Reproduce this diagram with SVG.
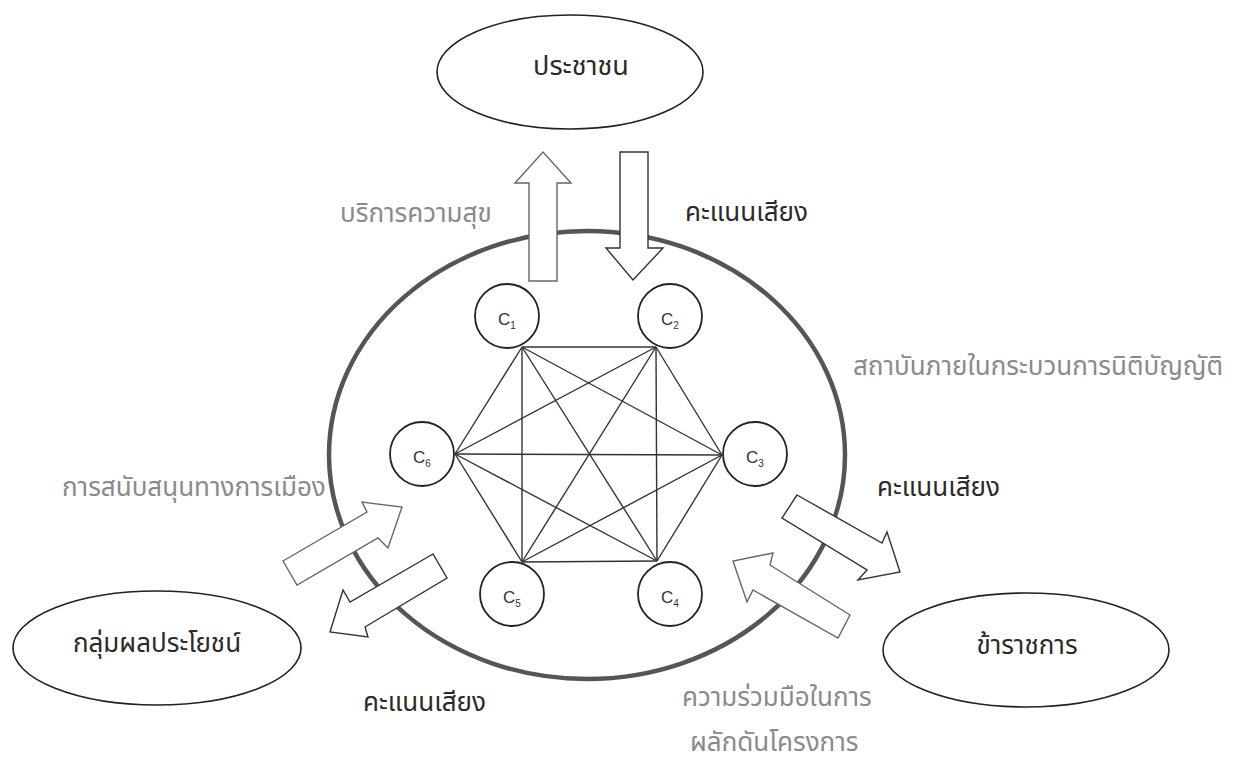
<svg xmlns="http://www.w3.org/2000/svg" width="1235" height="766" viewBox="0 0 1235 766">
<style>
.bg{fill:#fff}
.ell{fill:#fff;stroke:#222;stroke-width:1.6}
.big{fill:none;stroke:#555;stroke-width:4.5}
.node{fill:#fff;stroke:#222;stroke-width:1.8}
.edge{stroke:#333;stroke-width:1.4;fill:none}
.arr{fill:#fff;stroke:#333;stroke-width:1.4;stroke-linejoin:miter}
.arrg{fill:#fff;stroke:#666;stroke-width:1.4;stroke-linejoin:miter}
.th{font-family:"Noto Sans Thai","Noto Sans","DejaVu Sans",sans-serif;font-size:26px}
.dk{fill:#2a2a2a}
.gr{fill:#8a8a8a}
.cl{font-family:"Liberation Sans",Arial,sans-serif;font-size:17px;fill:#333}
.sub{font-size:10px}
</style>
<rect class="bg" x="0" y="0" width="1235" height="766"/>

<g id="outer">
<ellipse class="big" cx="587" cy="455" rx="258" ry="224"/>
</g>

<g id="connectors">
<line class="edge" x1="522" y1="347" x2="656" y2="347"/>
<line class="edge" x1="522" y1="347" x2="722" y2="455"/>
<line class="edge" x1="522" y1="347" x2="657" y2="561"/>
<line class="edge" x1="522" y1="347" x2="522" y2="562"/>
<line class="edge" x1="522" y1="347" x2="455" y2="454"/>
<line class="edge" x1="656" y1="347" x2="722" y2="455"/>
<line class="edge" x1="656" y1="347" x2="657" y2="561"/>
<line class="edge" x1="656" y1="347" x2="522" y2="562"/>
<line class="edge" x1="656" y1="347" x2="455" y2="454"/>
<line class="edge" x1="722" y1="455" x2="657" y2="561"/>
<line class="edge" x1="722" y1="455" x2="522" y2="562"/>
<line class="edge" x1="722" y1="455" x2="455" y2="454"/>
<line class="edge" x1="657" y1="561" x2="522" y2="562"/>
<line class="edge" x1="657" y1="561" x2="455" y2="454"/>
<line class="edge" x1="522" y1="562" x2="455" y2="454"/>
</g>

<g id="c1"><circle class="node" cx="507" cy="316" r="32"/><text class="cl" x="498" y="325">C<tspan class="sub" dy="4">1</tspan></text></g>
<g id="c2"><circle class="node" cx="670" cy="316" r="32"/><text class="cl" x="661" y="325">C<tspan class="sub" dy="4">2</tspan></text></g>
<g id="c3"><circle class="node" cx="755" cy="454" r="32"/><text class="cl" x="746" y="463">C<tspan class="sub" dy="4">3</tspan></text></g>
<g id="c4"><circle class="node" cx="670" cy="594" r="32"/><text class="cl" x="661" y="603">C<tspan class="sub" dy="4">4</tspan></text></g>
<g id="c5"><circle class="node" cx="512" cy="594" r="32"/><text class="cl" x="503" y="603">C<tspan class="sub" dy="4">5</tspan></text></g>
<g id="c6"><circle class="node" cx="422" cy="454" r="32"/><text class="cl" x="413" y="463">C<tspan class="sub" dy="4">6</tspan></text></g>

<g id="arrows">
<polygon class="arrg" points="529,281 529,183 515,183 543,152 571,183 557,183 557,281"/>
<polygon class="arr" points="620,152 648,152 648,248 663,248 633,280 606,248 620,248"/>
<polygon class="arrg" points="283,561 367,512 362,502 402,507 388,548 378,538 297,585"/>
<polygon class="arr" points="433,554 350,602 343,590 330,632 368,637 365,627 447,578"/>
<polygon class="arr" points="797,495 882,543 887,532 900,572 858,580 867,570 782,518"/>
<polygon class="arrg" points="850,615 770,565 773,553 733,561 747,602 753,590 838,638"/>
</g>

<g id="people"><ellipse class="ell" cx="570" cy="72" rx="133" ry="57"/><text class="th dk" x="581" y="75" text-anchor="middle" style="font-size:27px">ประชาชน</text></g>
<g id="interest"><ellipse class="ell" cx="157" cy="648" rx="144" ry="57"/><text class="th dk" x="157" y="652" text-anchor="middle">กลุ่มผลประโยชน์</text></g>
<g id="officials"><ellipse class="ell" cx="1026" cy="650" rx="143" ry="57"/><text class="th dk" x="1027" y="654" text-anchor="middle">ข้าราชการ</text></g>

<g id="labels">
<text class="th gr" x="340" y="222">บริการความสุข</text>
<text class="th dk" x="685" y="221">คะแนนเสียง</text>
<text class="th gr" x="853" y="375">สถาบันภายในกระบวนการนิติบัญญัติ</text>
<text class="th dk" x="877" y="496">คะแนนเสียง</text>
<text class="th gr" x="62" y="496">การสนับสนุนทางการเมือง</text>
<text class="th dk" x="363" y="711">คะแนนเสียง</text>
<text class="th gr" x="682" y="706">ความร่วมมือในการ</text>
<text class="th gr" x="690" y="751">ผลักดันโครงการ</text>
</g>
</svg>
